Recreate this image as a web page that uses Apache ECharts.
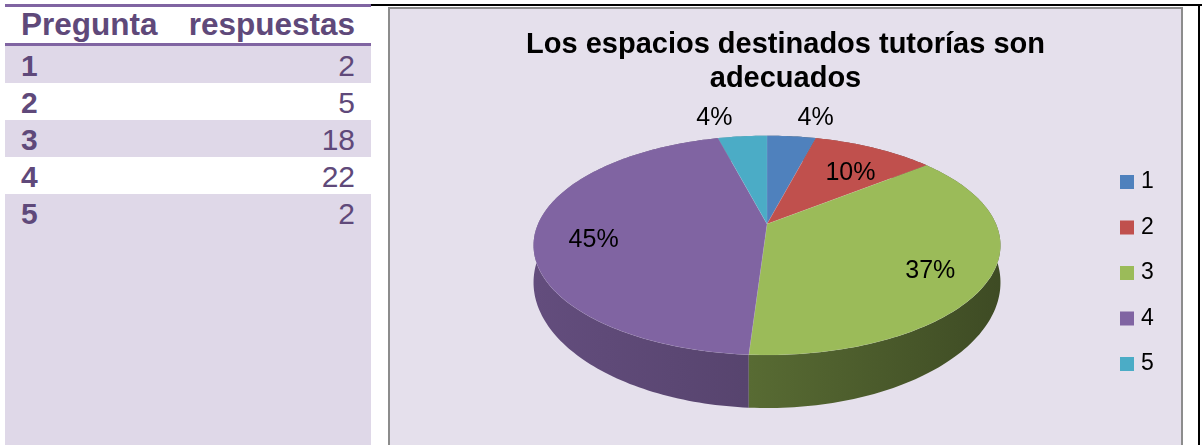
<!DOCTYPE html>
<html>
<head>
<meta charset="utf-8">
<script src="https://cdn.jsdelivr.net/npm/echarts@6/dist/echarts.min.js"></script>
<style>
  body { margin: 0; width: 1202px; height: 445px; overflow: hidden; background: #fff; position: relative;
         font-family: "Liberation Sans", Arial, sans-serif; }
  .abs { position: absolute; }
  .cell { position: absolute; height: 37px; line-height: 37px; font-size: 30px; color: #5f497a; white-space: nowrap; }
  #chart { position: absolute; left: 388px; top: 7px; width: 795px; height: 450px;
           border: 2px solid #8c8c8c; box-sizing: border-box; background: #e5e0ec; }
</style>
</head>
<body>
<div id="table"></div>
<div class="abs" style="left:371px;top:4px;width:831px;height:2px;background:#000"></div>
<div class="abs" style="left:1198px;top:4px;width:2px;height:441px;background:#000"></div>
<div id="chart"></div>
<script>
// datos
var categories = ['1', '2', '3', '4', '5'];
var answers = [2, 5, 18, 22, 2];
var headers = ['Pregunta', 'respuestas'];
var titleText = 'Los espacios destinados tutorías son\nadecuados';
var colors = ['#4f81bd', '#c0504d', '#9bbb59', '#8064a2', '#4bacc6'];

// tabla de la izquierda
var tbl = document.getElementById('table');
var html = '';
html += '<div class="abs" style="left:5px;top:46px;width:366px;height:399px;background:#dfd8e8"></div>';
html += '<div class="abs" style="left:5px;top:4px;width:366px;height:3px;background:#8064a2"></div>';
html += '<div class="abs" style="left:5px;top:43px;width:366px;height:3px;background:#8064a2"></div>';
html += '<div class="cell" style="left:21px;top:6px;font-weight:bold;font-size:31.5px">' + headers[0] + '</div>';
html += '<div class="cell" style="right:847px;top:6px;font-weight:bold;font-size:31.5px">' + headers[1] + '</div>';
categories.forEach(function (c, i) {
  var top = 46 + 37 * i;
  if (i % 2 === 1) {
    html += '<div class="abs" style="left:5px;top:' + top + 'px;width:366px;height:37px;background:#fff"></div>';
  }
  html += '<div class="cell" style="left:21px;top:' + (top + 1) + 'px;font-weight:bold">' + c + '</div>';
  html += '<div class="cell" style="right:847px;top:' + (top + 1) + 'px">' + answers[i] + '</div>';
});
tbl.innerHTML = html;

var total = answers.reduce(function (a, b) { return a + b; }, 0);

// oscurecer un color hex
function shade(hex, f) {
  var n = parseInt(hex.slice(1), 16);
  var r = Math.round(((n >> 16) & 255) * f);
  var g = Math.round(((n >> 8) & 255) * f);
  var b = Math.round((n & 255) * f);
  return 'rgb(' + r + ',' + g + ',' + b + ')';
}

// geometria del pastel 3D (perspectiva simple)
var cx = 377, cy = 215, A = 229, B = 105.5, K = 0.1947, H = 34.4;
function proj(t, rho) {
  var d = 1 + K * rho * Math.cos(t);
  return [cx + A * rho * Math.sin(t) / d, cy - B * rho * Math.cos(t) / d, d];
}

var chart = echarts.init(document.getElementById('chart'));

var option = {
  color: colors,
  title: {
    text: titleText,
    left: 'center',
    top: 19,
    padding: 0,
    textStyle: {
      fontFamily: 'Liberation Sans',
      fontSize: 29,
      fontWeight: 'bold',
      lineHeight: 34,
      color: '#000'
    }
  },
  legend: {
    orient: 'vertical',
    left: 730,
    top: 161,
    padding: 0,
    itemWidth: 14,
    itemHeight: 14,
    itemGap: 21.5,
    icon: 'rect',
    data: categories,
    textStyle: {
      fontFamily: 'Liberation Sans',
      fontSize: 23,
      lineHeight: 24,
      color: '#000',
      padding: [0, 0, 0, 2]
    }
  },
  series: [
    {
      // solo para la leyenda
      type: 'pie',
      radius: [0, 0],
      silent: true,
      label: { show: false },
      labelLine: { show: false },
      data: categories.map(function (c, i) { return { name: c, value: answers[i] }; })
    },
    {
      type: 'custom',
      coordinateSystem: 'none',
      silent: true,
      data: answers.map(function (v, i) { return { name: categories[i], value: [v] }; }),
      renderItem: function (params, api) {
        var i = params.dataIndex;
        var before = 0;
        for (var j = 0; j < i; j++) before += answers[j];
        var v = api.value(0);
        var a0 = before / total * 2 * Math.PI;
        var a1 = (before + v) / total * 2 * Math.PI;
        var n = Math.max(2, Math.ceil((a1 - a0) / 0.02));
        var top = [], bot = [];
        var xmin = Infinity, xmax = -Infinity;
        for (var k = 0; k <= n; k++) {
          var t = a0 + (a1 - a0) * k / n;
          var p = proj(t, 1);
          top.push([p[0], p[1]]);
          bot.push([p[0], p[1] + H / (p[2] * p[2])]);
          xmin = Math.min(xmin, p[0]);
          xmax = Math.max(xmax, p[0]);
        }
        var face = [[cx, cy]].concat(top);
        var wall = top.concat(bot.slice().reverse());
        var mid = (a0 + a1) / 2;
        var c = colors[i];
        // lado izquierdo mas claro, lado derecho en sombra
        var lit = Math.sin(mid) < 0;
        var wallFill = new echarts.graphic.LinearGradient(xmin, 0, xmax, 0, [
          { offset: 0, color: shade(c, lit ? 0.77 : 0.57) },
          { offset: 1, color: shade(c, lit ? 0.68 : 0.4) }
        ], true);

        var pct = Math.round(v / total * 100) + '%';
        var lbl;
        if (v / total < 0.05) {
          var q = proj(mid, 1);
          var right = Math.sin(mid) > 0;
          lbl = { x: q[0] + (right ? 6 : -10), y: q[1] - 6, align: right ? 'left' : 'right', verticalAlign: 'bottom' };
        } else {
          var r = proj(mid, 0.75);
          lbl = { x: r[0], y: r[1] + 8, align: 'center', verticalAlign: 'middle' };
        }

        return {
          type: 'group',
          children: [
            {
              type: 'polygon',
              z2: 10 - Math.cos(mid) * 5,
              shape: { points: wall },
              style: { fill: wallFill }
            },
            {
              type: 'polygon',
              z2: 50,
              shape: { points: face },
              style: { fill: c, stroke: 'rgba(255,255,255,0.15)', lineWidth: 0.5 }
            },
            {
              type: 'text',
              z2: 60,
              style: {
                text: pct,
                x: lbl.x,
                y: lbl.y,
                align: lbl.align,
                verticalAlign: lbl.verticalAlign,
                fontFamily: 'Liberation Sans',
                fontSize: 25,
                fill: '#000'
              }
            }
          ]
        };
      }
    }
  ]
};

chart.setOption(option);
</script>
</body>
</html>
